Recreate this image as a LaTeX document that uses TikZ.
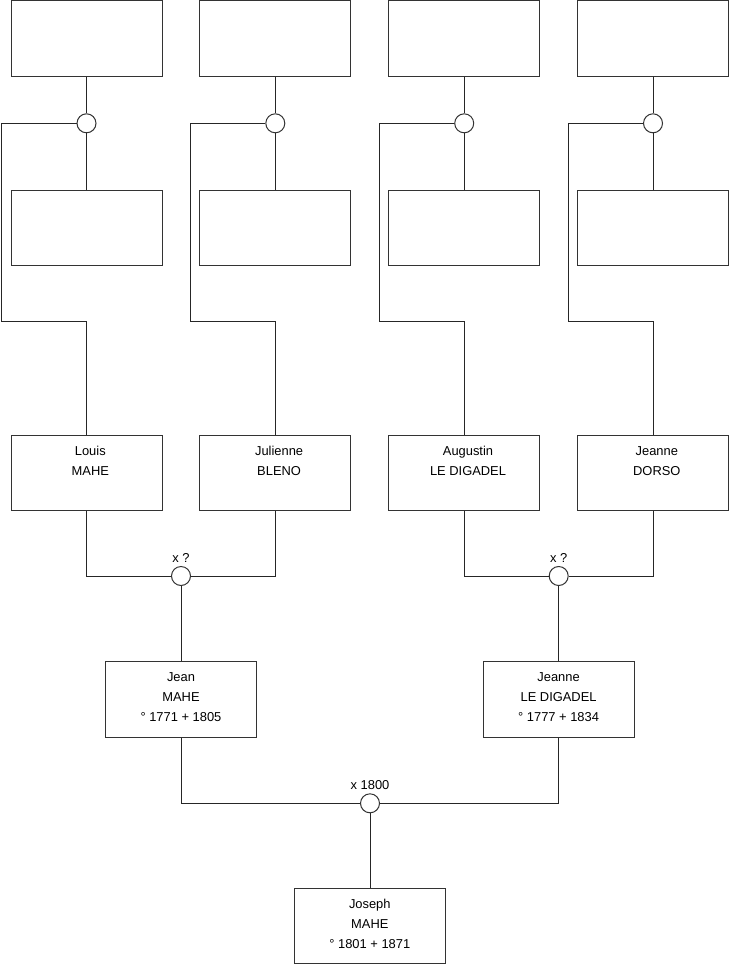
\documentclass[tikz,border=0pt]{standalone}
\usepackage{fontspec}
\setmainfont{Liberation Sans}
\begin{document}
\begin{tikzpicture}[x=1pt,y=-1pt,
  box/.style={draw=black!80, line width=1pt, minimum width=151pt, minimum height=75.5pt, inner sep=0pt, fill=white},
  wed/.style={circle, draw=black!80, line width=1pt, minimum size=19pt, inner sep=0pt, fill=white},
  wire/.style={draw=black!85, line width=1pt},
  txt/.style={anchor=north, inner sep=0pt, align=center, font=\fontsize{12.9}{20}\selectfont},
  lbl/.style={anchor=base, inner sep=0pt, font=\fontsize{12.9}{15}\selectfont}]
\useasboundingbox (0,0) rectangle (740,975);
% top columns
\foreach \i/\cx in {1/86.5, 2/275.3, 3/464.2, 4/653}{
  \node[box] (t\i) at (\cx,38.3) {};
  \node[box] (m\i) at (\cx,227.8) {};
  \node[wed] (c\i) at (\cx,123.3) {};
  \coordinate (k\i) at (\cx-85,321.7);
  \node[box] (p\i) at (\cx,472.9) {};
}
\foreach \i in {1,2,3,4}{
  \draw[wire] (t\i.south) -- (c\i.north);
  \draw[wire] (c\i.south) -- (m\i.north);
  \draw[wire] (c\i.west) -| (k\i) -| (p\i.north);
}
\node[txt, xshift=3.8pt] (p1t) at (p1.north |- 0,446.0) {Louis\\MAHE};
\node[txt, xshift=3.8pt] (p2t) at (p2.north |- 0,446.0) {Julienne\\BLENO};
\node[txt, xshift=3.8pt] (p3t) at (p3.north |- 0,446.0) {Augustin\\LE DIGADEL};
\node[txt, xshift=3.8pt] (p4t) at (p4.north |- 0,446.0) {Jeanne\\DORSO};
% parents' marriages
\node[wed] (w1) at (181,576) {};
\node[wed] (w2) at (558.7,576) {};
\node[lbl] (w1l) at (181,562.5) {x ?};
\node[lbl] (w2l) at (558.7,562.5) {x ?};
\node[box] (j1) at (181.0,699.5) {};
\node[box] (j2) at (558.6,699.5) {};
\draw[wire] (p1.south) |- (w1.west);
\draw[wire] (p2.south) |- (w1.east);
\draw[wire] (p3.south) |- (w2.west);
\draw[wire] (p4.south) |- (w2.east);
\draw[wire] (w1.south) -- (w1.south |- j1.north);
\draw[wire] (w2.south) -- (w2.south |- j2.north);
\node[txt] (j1t) at (j1.north |- 0,672.7) {Jean\\MAHE\\° 1771 + 1805};
\node[txt] (j2t) at (j2.north |- 0,672.7) {Jeanne\\LE DIGADEL\\° 1777 + 1834};
% final marriage
\node[wed] (w3) at (370,803.3) {};
\node[lbl] (w3l) at (370,789.5) {x 1800};
\node[box] (jo) at (369.8,925.9) {};
\draw[wire] (j1.south) |- (w3.west);
\draw[wire] (j2.south) |- (w3.east);
\draw[wire] (w3.south) -- (w3.south |- jo.north);
\node[txt] (jot) at (jo.north |- 0,899.2) {Joseph\\MAHE\\° 1801 + 1871};
\end{tikzpicture}
\end{document}
